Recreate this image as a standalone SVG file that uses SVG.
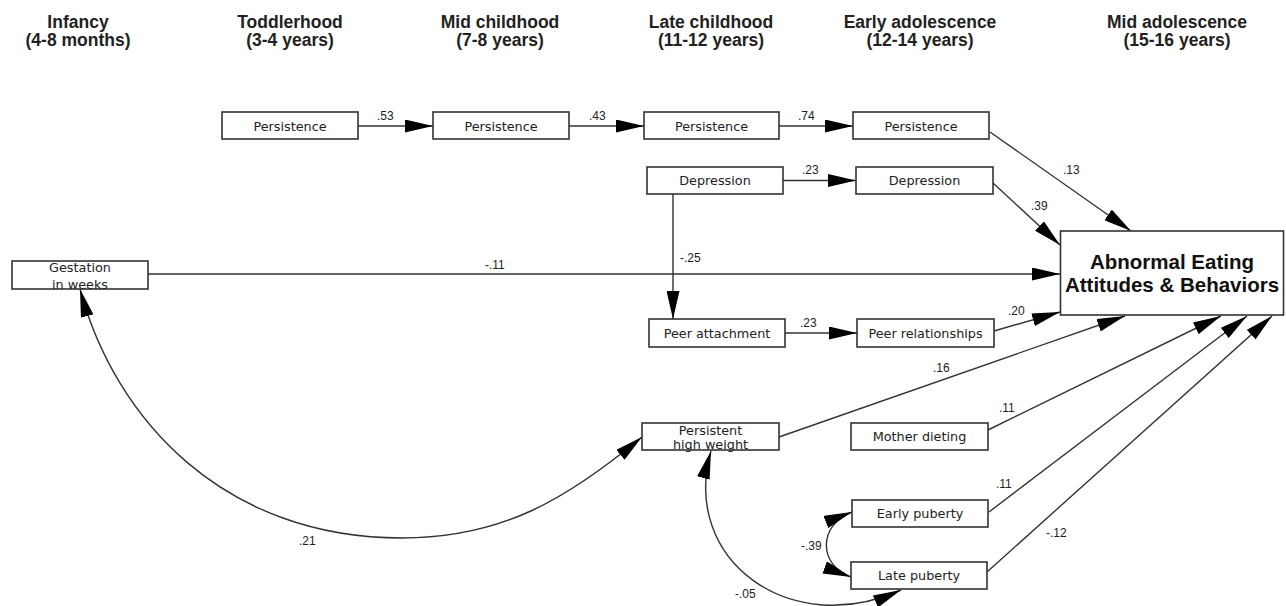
<svg xmlns="http://www.w3.org/2000/svg" width="1286" height="606" viewBox="0 0 1286 606">
<style>
.hdr{font-family:"Liberation Sans",Arial,sans-serif;font-weight:bold;font-size:17.5px;fill:#222;text-anchor:middle}
.box{fill:#fff;stroke:#333;stroke-width:1.6}
.lbl{font-family:"DejaVu Sans",Verdana,sans-serif;font-size:12.8px;fill:#222;text-anchor:middle}
.big{font-family:"Liberation Sans",Arial,sans-serif;font-weight:bold;font-size:20.5px;fill:#111;text-anchor:middle}
.ed{font-family:"Liberation Sans",Arial,sans-serif;font-size:12px;fill:#222}
.ln{fill:none;stroke:#333;stroke-width:1.4}
.arr{marker-end:url(#ah)}
.dbl{marker-start:url(#ah);marker-end:url(#ah)}
</style>
<defs>
<marker id="ah" markerUnits="userSpaceOnUse" markerWidth="29" markerHeight="13" refX="28" refY="6.5" orient="auto-start-reverse">
<path d="M0,0 L28,6.5 L0,13 z" fill="#000"/>
</marker>
</defs>
<rect width="1286" height="606" fill="#fff"/>

<g id="headers">
<text class="hdr" x="78" y="27.5">Infancy</text>
<text class="hdr" x="78" y="46">(4-8 months)</text>
<text class="hdr" x="290" y="27.5">Toddlerhood</text>
<text class="hdr" x="290" y="46">(3-4 years)</text>
<text class="hdr" x="500" y="27.5">Mid childhood</text>
<text class="hdr" x="500" y="46">(7-8 years)</text>
<text class="hdr" x="711" y="27.5">Late childhood</text>
<text class="hdr" x="711" y="46">(11-12 years)</text>
<text class="hdr" x="920" y="27.5">Early adolescence</text>
<text class="hdr" x="920" y="46">(12-14 years)</text>
<text class="hdr" x="1177" y="27.5">Mid adolescence</text>
<text class="hdr" x="1177" y="46">(15-16 years)</text>
</g>

<g id="connectors">
<line class="ln arr" x1="358" y1="126" x2="433" y2="126"/>
<line class="ln arr" x1="569" y1="126" x2="644" y2="126"/>
<line class="ln arr" x1="779" y1="126" x2="853" y2="126"/>
<line class="ln arr" x1="783" y1="180.5" x2="856" y2="180.5"/>
<line class="ln arr" x1="673" y1="194" x2="673" y2="319"/>
<line class="ln arr" x1="785" y1="333" x2="857" y2="333"/>
<line class="ln arr" x1="148" y1="274" x2="1060" y2="274"/>
<line class="ln arr" x1="990" y1="132" x2="1131" y2="231"/>
<line class="ln arr" x1="993" y1="183" x2="1060" y2="245"/>
<line class="ln arr" x1="994" y1="331" x2="1060" y2="312"/>
<line class="ln arr" x1="779" y1="437" x2="1125" y2="316"/>
<line class="ln arr" x1="988" y1="430" x2="1221" y2="316"/>
<line class="ln arr" x1="989" y1="512" x2="1247" y2="316"/>
<line class="ln arr" x1="987" y1="572" x2="1272" y2="316"/>
<path class="ln dbl" d="M80,289 C115,420 224,538 402,538 C502,538 567,499 642,437"/>
<path class="ln dbl" d="M852,512 C818,525 818,565 851,577"/>
<path class="ln dbl" d="M711,451 C680,560 790,640 901,590"/>
<text class="ed" x="377" y="120">.53</text>
<text class="ed" x="589" y="120">.43</text>
<text class="ed" x="798" y="119.5">.74</text>
<text class="ed" x="802" y="174">.23</text>
<text class="ed" x="680" y="262">-.25</text>
<text class="ed" x="800" y="327">.23</text>
<text class="ed" x="485" y="269">-.11</text>
<text class="ed" x="1063" y="174">.13</text>
<text class="ed" x="1031" y="210">.39</text>
<text class="ed" x="1008" y="315">.20</text>
<text class="ed" x="933" y="371.5">.16</text>
<text class="ed" x="999" y="411.5">.11</text>
<text class="ed" x="996" y="488">.11</text>
<text class="ed" x="1046" y="537">-.12</text>
<text class="ed" x="801" y="550">-.39</text>
<text class="ed" x="735" y="598">-.05</text>
<text class="ed" x="299" y="545">.21</text>
</g>

<g id="persistence1"><rect class="box" x="222" y="112" width="136" height="27"/><text class="lbl" x="290" y="130.5">Persistence</text></g>
<g id="persistence2"><rect class="box" x="433" y="112" width="136" height="27"/><text class="lbl" x="501" y="130.5">Persistence</text></g>
<g id="persistence3"><rect class="box" x="644" y="112" width="135" height="27"/><text class="lbl" x="711.5" y="130.5">Persistence</text></g>
<g id="persistence4"><rect class="box" x="853" y="112" width="136" height="27"/><text class="lbl" x="921" y="130.5">Persistence</text></g>
<g id="depression1"><rect class="box" x="647" y="167" width="136" height="27"/><text class="lbl" x="715" y="185.2">Depression</text></g>
<g id="depression2"><rect class="box" x="856" y="167" width="137" height="27"/><text class="lbl" x="924.5" y="185.2">Depression</text></g>
<g id="gestation"><rect class="box" x="12" y="261" width="136" height="28"/><text class="lbl" x="80" y="271.5">Gestation</text><text class="lbl" x="80" y="289">in weeks</text></g>
<g id="peerattachment"><rect class="box" x="649" y="319" width="136" height="28"/><text class="lbl" x="717" y="337.7">Peer attachment</text></g>
<g id="peerrelationships"><rect class="box" x="857" y="319" width="137" height="28"/><text class="lbl" x="925.5" y="337.7">Peer relationships</text></g>
<g id="highweight"><rect class="box" x="642" y="423" width="137" height="27"/><text class="lbl" x="710.5" y="435">Persistent</text><text class="lbl" x="710.5" y="449">high weight</text></g>
<g id="motherdieting"><rect class="box" x="851" y="423" width="137" height="27"/><text class="lbl" x="919.5" y="441.2">Mother dieting</text></g>
<g id="earlypuberty"><rect class="box" x="852" y="500" width="136" height="27"/><text class="lbl" x="920" y="518.2">Early puberty</text></g>
<g id="latepuberty"><rect class="box" x="851" y="562" width="136" height="27"/><text class="lbl" x="919" y="580.2">Late puberty</text></g>
<g id="outcome"><rect class="box" x="1060.5" y="231" width="223" height="84"/><text class="big" x="1172" y="268.5">Abnormal Eating</text><text class="big" x="1172" y="291.5">Attitudes &amp; Behaviors</text></g>
</svg>
